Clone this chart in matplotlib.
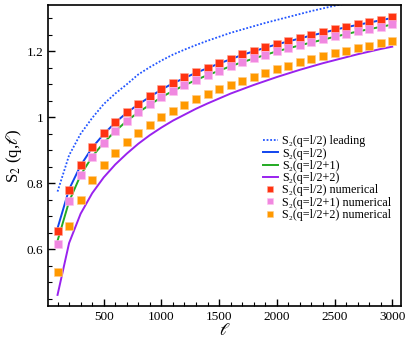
import matplotlib
matplotlib.use("Agg")
import matplotlib.pyplot as plt
from matplotlib.ticker import MultipleLocator

plt.rcParams['font.family'] = ['Liberation Serif', 'DejaVu Serif']
plt.rcParams['mathtext.fontset'] = 'stix'

ell = [100, 200, 300, 400, 500, 600, 700, 800, 900, 1000,
       1100, 1200, 1300, 1400, 1500, 1600, 1700, 1800, 1900, 2000,
       2100, 2200, 2300, 2400, 2500, 2600, 2700, 2800, 2900, 3000]

leading = [0.775, 0.885, 0.950, 0.998, 1.040, 1.072, 1.100, 1.130, 1.152, 1.172,
           1.190, 1.205, 1.219, 1.232, 1.244, 1.256, 1.266, 1.276, 1.286, 1.295,
           1.304, 1.313, 1.322, 1.330, 1.338, 1.345, 1.353, 1.360, 1.367, 1.374]

line_q0 = [0.664, 0.782, 0.854, 0.908, 0.949, 0.984, 1.014, 1.039, 1.062, 1.084,
           1.103, 1.119, 1.135, 1.149, 1.163, 1.176, 1.189, 1.200, 1.211, 1.221,
           1.230, 1.239, 1.248, 1.256, 1.265, 1.273, 1.280, 1.287, 1.294, 1.301]

line_q1 = [0.626, 0.745, 0.825, 0.881, 0.923, 0.958, 0.989, 1.015, 1.038, 1.061,
           1.080, 1.097, 1.113, 1.128, 1.141, 1.155, 1.167, 1.178, 1.189, 1.200,
           1.209, 1.218, 1.227, 1.235, 1.244, 1.252, 1.260, 1.267, 1.274, 1.281]

line_q2 = [0.462, 0.619, 0.708, 0.770, 0.818, 0.857, 0.890, 0.920, 0.946, 0.969,
           0.990, 1.008, 1.026, 1.042, 1.057, 1.072, 1.085, 1.098, 1.110, 1.122,
           1.133, 1.144, 1.154, 1.164, 1.173, 1.182, 1.191, 1.199, 1.207, 1.214]

num_q0 = [0.655, 0.780, 0.855, 0.910, 0.951, 0.986, 1.016, 1.041, 1.064, 1.086,
          1.105, 1.121, 1.137, 1.150, 1.165, 1.178, 1.191, 1.202, 1.213, 1.223,
          1.232, 1.241, 1.250, 1.258, 1.267, 1.275, 1.282, 1.289, 1.296, 1.303]

num_q1 = [0.617, 0.747, 0.825, 0.881, 0.923, 0.958, 0.990, 1.016, 1.039, 1.062,
          1.081, 1.097, 1.113, 1.128, 1.141, 1.155, 1.168, 1.179, 1.190, 1.201,
          1.210, 1.219, 1.228, 1.236, 1.245, 1.253, 1.262, 1.268, 1.275, 1.283]

num_q2 = [0.530, 0.670, 0.751, 0.810, 0.856, 0.893, 0.925, 0.953, 0.978, 1.000,
          1.020, 1.038, 1.055, 1.070, 1.085, 1.099, 1.111, 1.123, 1.135, 1.146,
          1.156, 1.167, 1.176, 1.186, 1.194, 1.202, 1.210, 1.217, 1.224, 1.231]

labels = ["S\u2082(q=l/2) leading", "S\u2082(q=l/2)", "S\u2082(q=l/2+1)", "S\u2082(q=l/2+2)",
          "S\u2082(q=l/2) numerical", "S\u2082(q=l/2+1) numerical", "S\u2082(q=l/2+2) numerical"]

fig = plt.figure(figsize=(4.07, 3.39), dpi=100)
ax = fig.add_axes([0.1187, 0.097, 0.8663, 0.888])

ax.plot(ell, leading, ls=(0, (1, 1)), color='#2255ff', lw=1.3, label=labels[0])
ax.plot(ell, line_q0, color='#1144ee', lw=1.4, label=labels[1], zorder=2)
ax.plot(ell, line_q1, color='#22aa22', lw=1.4, label=labels[2], zorder=2)
ax.plot(ell, line_q2, color='#9922ee', lw=1.4, label=labels[3], zorder=2)
ax.plot(ell, num_q0, ls='none', marker='s', ms=5.6, color='#ff3311', mec='#ffaa99', mew=0.4, label=labels[4], zorder=3)
ax.plot(ell, num_q1, ls='none', marker='s', ms=5.6, color='#f088e0', mec='#ffc0f0', mew=0.4, label=labels[5], zorder=3)
ax.plot(ell, num_q2, ls='none', marker='s', ms=5.6, color='#ff9900', mec='#ffcc88', mew=0.4, label=labels[6], zorder=3)

ax.set_xlim(20, 3075)
ax.set_ylim(0.428, 1.34)
ax.xaxis.set_major_locator(MultipleLocator(500))
ax.xaxis.set_minor_locator(MultipleLocator(100))
ax.yaxis.set_minor_locator(MultipleLocator(0.05))
ax.set_yticks([0.6, 0.8, 1.0, 1.2])
ax.set_yticklabels(['0.6', '0.8', '1', '1.2'])
ax.tick_params(which='both', direction='in', top=False, right=False, labelsize=9.5)
ax.tick_params(which='major', length=5, width=1)
ax.tick_params(which='minor', length=3, width=0.8)
for s in ax.spines.values():
    s.set_linewidth(1.2)

ax.set_xlabel(r"$\mathscr{l}$", fontsize=12, labelpad=0)
ax.set_ylabel(r"S$_2$ (q,$\mathscr{l}$)", fontsize=12, labelpad=2)

leg = ax.legend(loc='upper left', bbox_to_anchor=(0.592, 0.587), frameon=False,
                fontsize=8.7, handlelength=1.2, handletextpad=0.4, labelspacing=0.02,
                borderpad=0, markerscale=0.75)

fig.savefig("out.png", dpi=100)
